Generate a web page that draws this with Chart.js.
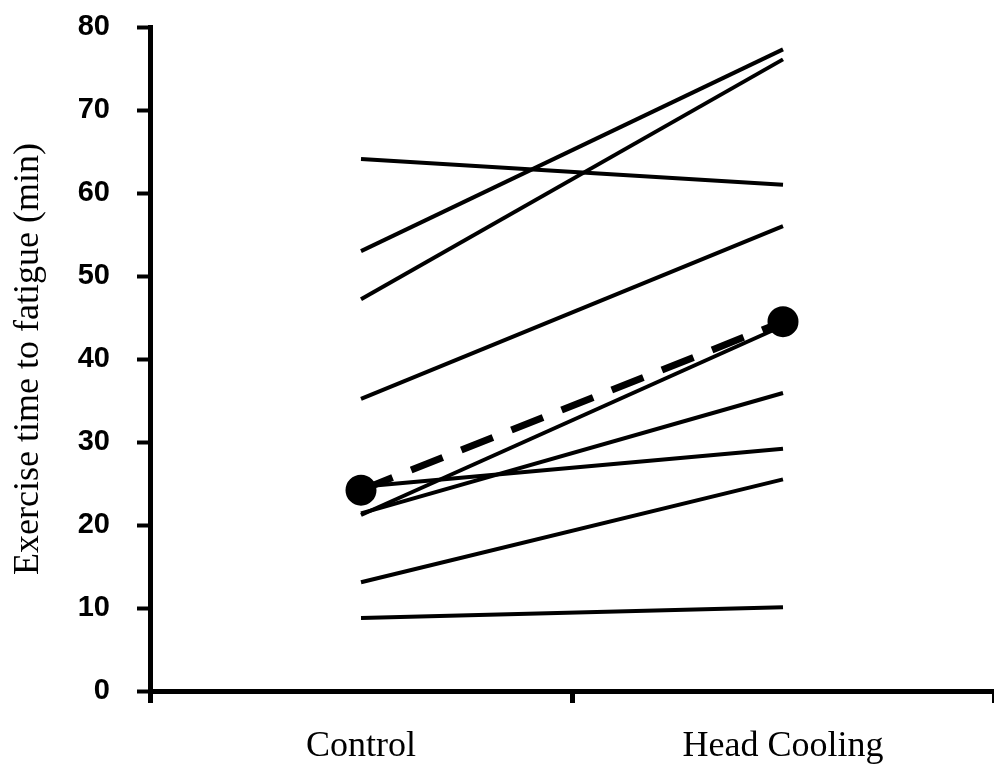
<!DOCTYPE html>
<html>
<head>
<meta charset="utf-8">
<script src="https://cdn.jsdelivr.net/npm/chart.js@4.4.0/dist/chart.umd.min.js"></script>
<style>
  body { margin: 0; background: #fff; }
  #wrap { width: 994px; height: 767px; }
</style>
</head>
<body>
<div id="wrap"><canvas id="chart" width="994" height="767"></canvas></div>
<script>
// conditions on the x axis
var categories = ['Control', 'Head Cooling']
var yTicks = [0, 10, 20, 30, 40, 50, 60, 70, 80]

// one line per subject, minutes to fatigue
var subject1 = [64.1, 61.0]
var subject2 = [53.0, 77.3]
var subject3 = [47.2, 76.1]
var subject4 = [35.2, 56.0]
var subject5 = [21.2, 44.0]
var subject6 = [21.4, 35.9]
var subject7 = [24.6, 29.2]
var subject8 = [13.1, 25.5]
var subject9 = [8.8, 10.1]
// dashed line with the big dots
var median = [24.2, 44.5]

var subjects = [subject1, subject2, subject3, subject4, subject5, subject6, subject7, subject8, subject9]

var datasets = subjects.map(function (vals, i) {
    return {
        label: 'Subject ' + (i + 1),
        data: vals,
        borderColor: '#000',
        borderWidth: 4,
        pointRadius: 0,
        tension: 0
    }
})
datasets.push({
    label: 'Median',
    data: median,
    borderColor: '#000',
    backgroundColor: '#000',
    borderWidth: 7,
    borderDash: [34, 20],
    pointRadius: 12,
    pointBackgroundColor: '#000',
    pointBorderColor: '#000',
    tension: 0
})

var ctx = document.getElementById('chart').getContext('2d')
var myChart = new Chart(ctx, {
    type: 'line',
    data: {
        labels: categories,
        datasets: datasets
    },
    options: {
        responsive: false,
        animation: false,
        devicePixelRatio: 1,
        layout: { autoPadding: false, padding: { top: 27, right: 0, left: 0, bottom: 0 } },
        plugins: {
            legend: { display: false },
            tooltip: { enabled: false }
        },
        scales: {
            x: {
                offset: true,
                border: { display: true, color: '#000', width: 5 },
                grid: {
                    offset: true,
                    drawOnChartArea: false,
                    drawTicks: true,
                    tickLength: 12,
                    tickWidth: 5,
                    color: '#000'
                },
                ticks: {
                    color: '#000',
                    padding: 22,
                    font: { family: 'Liberation Serif', size: 36 }
                },
                afterFit: function (scale) { scale.height = 76 }
            },
            y: {
                min: 0,
                max: 80,
                afterBuildTicks: function (scale) {
                    scale.ticks = yTicks.map(function (v) { return { value: v } })
                },
                border: { display: true, color: '#000', width: 5 },
                grid: {
                    drawOnChartArea: false,
                    drawTicks: true,
                    tickLength: 13,
                    tickWidth: 4,
                    color: '#000'
                },
                ticks: {
                    color: '#000',
                    padding: 27,
                    font: { family: 'Liberation Sans', size: 29, weight: 'bold' }
                },
                title: {
                    display: true,
                    text: 'Exercise time to fatigue (min)',
                    color: '#000',
                    padding: { top: 7, bottom: 0 },
                    font: { family: 'Liberation Serif', size: 36 }
                },
                afterFit: function (scale) {
                    scale.width = 150
                    scale.paddingTop = 0
                    scale.paddingBottom = 0
                }
            }
        }
    }
})
</script>
</body>
</html>
